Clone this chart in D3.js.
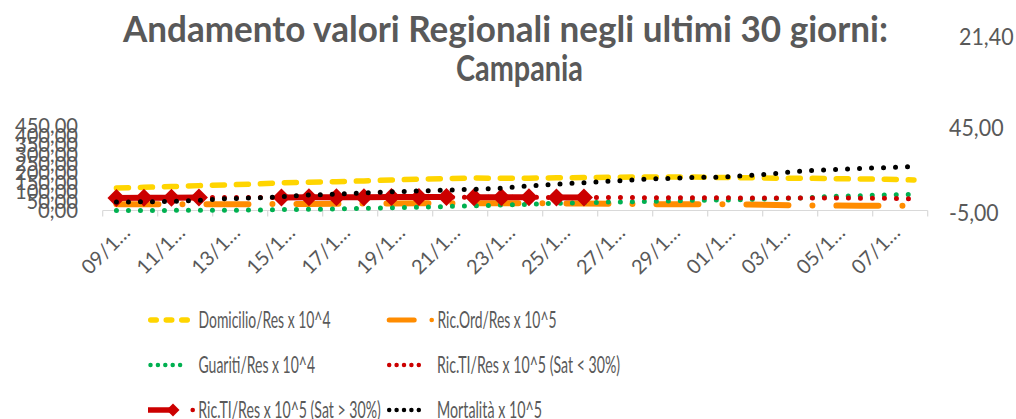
<!DOCTYPE html>
<html>
<head>
<meta charset="utf-8">
<script src="https://cdn.jsdelivr.net/npm/d3@7"></script>
<style>
  body { margin: 0; background: #fff; }
  svg { display: block; }
  text { font-family: Lato, "Open Sans", sans-serif; fill: #595959; }
</style>
</head>
<body>
<svg id="chart" width="1016" height="419"></svg>
<script>
// Days shown on the category axis (last 30 days)
const dates = [
  "09/11/2020","10/11/2020","11/11/2020","12/11/2020","13/11/2020","14/11/2020",
  "15/11/2020","16/11/2020","17/11/2020","18/11/2020","19/11/2020","20/11/2020",
  "21/11/2020","22/11/2020","23/11/2020","24/11/2020","25/11/2020","26/11/2020",
  "27/11/2020","28/11/2020","29/11/2020","30/11/2020","01/12/2020","02/12/2020",
  "03/12/2020","04/12/2020","05/12/2020","06/12/2020","07/12/2020","08/12/2020"
];

// Primary axis series
const domicilio = [119, 123, 127, 132, 136, 140, 147, 150, 153, 157, 162, 166, 169, 172, 171,
                   171.5, 173.5, 174.5, 176, 178, 178, 178, 175, 174, 171.5, 171, 169.5, 167, 166, 162];
const ricOrd = [33.4, 33.2, 32.9, 32.9, 32.9, 33.4, 34.5, 34.5, 35.6, 36.6, 37.7, 38.2, 38.2, 38.2, 38.2,
                38.2, 37.7, 37.2, 36.1, 34.5, 33.4, 32.9, 32.9, 31.3, 29.2, 27.6, 26, 25.5, 25.5, 24.9];
const guariti = [0, 0.3, 0.6, 1, 1.5, 2.5, 4.8, 6.4, 8, 11.7, 14.9, 17, 21.2, 24.9, 29.2,
                 32.9, 38.2, 41.4, 45.1, 46.7, 50.4, 54.1, 55.7, 58.4, 63.7, 67.4, 74.3, 78.5, 82.3, 86];

// Secondary axis series
const ricTI = [2.4, 2.5, 2.5, 2.6, 2.6, 2.7, 2.7, 2.8, 2.8, 2.8, 2.9, 2.9, 2.9, 2.8, 2.8,
               2.8, 2.7, 2.7, 2.6, 2.6, 2.5, 2.5, 2.5, 2.4, 2.4, 2.4, 2.3, 2.3, 2.2, 1.8];
const ricTISatHigh = [2.4, 2.5, 2.5, 2.6, null, null, 2.7, 2.8, 2.8, 2.8, 2.9, 2.9, 2.9, 2.8, 2.8,
                      2.8, 2.7, 2.7, null, null, null, null, null, null, null, null, null, null, null, null];
// days whose connector from the previous day is not drawn
const satHighBreaks = [13, 16];
const mortalita = [0, 0.1, 0.4, 1.0, 2.0, 2.4, 3.1, 4.1, 4.7, 5.3, 6.0, 6.5, 7.0, 7.5, 8.1,
                   9.5, 10.5, 11.4, 12.3, 13.3, 13.9, 14.5, 14.7, 15.6, 16.9, 18.4, 19.1, 19.8, 20.3, 20.9];

// Axis ticks
const leftTicks = [0, 50, 100, 150, 200, 250, 300, 350, 400, 450];
const rightTicks = [-5, 45];
const rightExtra = 21.4;

const titleLines = ["Andamento valori Regionali negli ultimi 30 giorni:", "Campania"];

const legendItems = [
  { key: "dom",  label: "Domicilio/Res x 10^4" },
  { key: "ord",  label: "Ric.Ord/Res x 10^5" },
  { key: "gua",  label: "Guariti/Res x 10^4" },
  { key: "tiLo", label: "Ric.TI/Res x 10^5 (Sat < 30%)" },
  { key: "tiHi", label: "Ric.TI/Res x 10^5 (Sat > 30%)" },
  { key: "mor",  label: "Mortalità x 10^5" }
];

const COL = { dom: "#FFD500", ord: "#FF8C00", gua: "#00B050", red: "#CC0000", mor: "#000000" };

const locale = d3.formatLocale({ decimal: ",", thousands: ".", grouping: [3], currency: ["€", ""], minus: "-" });
const fmt = locale.format(".2f");

// narrow number labels: width from digit / comma counts
const numWidth = (s, digit, comma) => [...s].reduce((w, c) => w + (c === "," ? comma : digit), 0);

const svg = d3.select("#chart");

// ---- scales
const x = d3.scaleBand().domain(dates).range([102.7, 927.7]);
const cx = d => x(d) + x.bandwidth() / 2;
const yL = d3.scaleLinear().domain([0, 450]).range([210.5, 125.7]);
const yR = d3.scaleLinear().domain([-5, 45]).range([210.5, 125.7]);

// ---- title
const titleG = svg.append("g").attr("font-size", 36).attr("font-weight", 700);
titleG.append("text").attr("x", 123).attr("y", 42)
  .attr("textLength", 765).attr("lengthAdjust", "spacingAndGlyphs")
  .text(titleLines[0]);
titleG.append("text").attr("x", 456).attr("y", 81)
  .attr("textLength", 127).attr("lengthAdjust", "spacingAndGlyphs")
  .text(titleLines[1]);

// ---- left axis
const axL = svg.append("g").attr("transform", "translate(78,0)")
  .call(d3.axisLeft(yL).tickValues(leftTicks).tickFormat(fmt).tickSize(0).tickPadding(0));
axL.select(".domain").remove();
axL.selectAll("text")
  .attr("font-size", 22).attr("fill", "#595959").style("font-family", "Lato, sans-serif")
  .attr("textLength", d => numWidth(fmt(d), 11.5, 5.5)).attr("lengthAdjust", "spacingAndGlyphs");

// ---- right axis
const axR = svg.append("g").attr("transform", "translate(949,0)")
  .call(d3.axisRight(yR).tickValues(rightTicks).tickFormat(fmt).tickSize(0).tickPadding(0));
axR.select(".domain").remove();
axR.selectAll("text")
  .attr("font-size", 23).attr("dy", "0.42em").attr("fill", "#595959").style("font-family", "Lato, sans-serif")
  .attr("textLength", d => numWidth(fmt(d), 12.2, 5.8) - (d < 0 ? 5 : 0)).attr("lengthAdjust", "spacingAndGlyphs");
svg.append("text").attr("x", 959).attr("y", 37).attr("dy", "0.35em")
  .attr("font-size", 23)
  .attr("textLength", numWidth(fmt(rightExtra), 12.2, 5.8)).attr("lengthAdjust", "spacingAndGlyphs")
  .text(fmt(rightExtra));

// ---- category axis
const axisG = svg.append("g");
axisG.append("line")
  .attr("x1", x.range()[0]).attr("x2", x.range()[1])
  .attr("y1", yL(0)).attr("y2", yL(0))
  .attr("stroke", "#D9D9D9").attr("stroke-width", 1.2);
const tickPos = dates.filter((d, i) => i % 2 === 0).map(d => x(d)).concat([x.range()[1]]);
axisG.selectAll("line.tick").data(tickPos).join("line").attr("class", "tick")
  .attr("x1", d => d).attr("x2", d => d)
  .attr("y1", yL(0)).attr("y2", yL(0) + 6)
  .attr("stroke", "#D9D9D9").attr("stroke-width", 1.2);
axisG.selectAll("text.lab").data(dates.filter((d, i) => i % 2 === 0)).join("text")
  .attr("class", "lab")
  .attr("font-size", 20)
  .attr("text-anchor", "end")
  .attr("transform", d => `translate(${cx(d) + 15},${234}) rotate(-45)`)
  .text(d => d.slice(0, 4) + "…");

// ---- series
const plot = svg.append("g");
const lineOf = (scale) => d3.line()
  .defined(v => v != null)
  .x((v, i) => cx(dates[i]))
  .y(v => scale(v));

// Domicilio – dashed
plot.append("path").datum(domicilio).attr("d", lineOf(yL))
  .attr("fill", "none").attr("stroke", COL.dom).attr("stroke-width", 5.5)
  .attr("stroke-linecap", "round").attr("stroke-dasharray", "12 12");

// Ric.Ord – long dash dot
plot.append("path").datum(ricOrd).attr("d", lineOf(yL))
  .attr("fill", "none").attr("stroke", COL.ord).attr("stroke-width", 6)
  .attr("stroke-linecap", "round").attr("stroke-dasharray", "42 24 0 24");

// Guariti – round dots
plot.append("path").datum(guariti).attr("d", lineOf(yL))
  .attr("fill", "none").attr("stroke", COL.gua).attr("stroke-width", 5)
  .attr("stroke-linecap", "round").attr("stroke-dasharray", "0 12");

// Ric.TI (all days) – round dots
plot.append("path").datum(ricTI).attr("d", lineOf(yR))
  .attr("fill", "none").attr("stroke", COL.red).attr("stroke-width", 5)
  .attr("stroke-linecap", "round").attr("stroke-dasharray", "0 12");

// Ric.TI with saturation > 30% – thick runs with diamond markers
const runs = [];
let cur = null;
ricTISatHigh.forEach((v, i) => {
  if (v == null) { cur = null; return; }
  if (!cur || satHighBreaks.includes(i)) { cur = []; runs.push(cur); }
  cur.push(i);
});
const runLine = d3.line().x(i => cx(dates[i])).y(i => yR(ricTISatHigh[i]));
plot.selectAll("path.run").data(runs).join("path").attr("class", "run")
  .attr("d", runLine)
  .attr("fill", "none").attr("stroke", COL.red).attr("stroke-width", 6);
const diamond = s => `M0,${-s}L${s},0L0,${s}L${-s},0Z`;
plot.selectAll("path.dia").data(ricTISatHigh.map((v, i) => ({ v, i })).filter(d => d.v != null))
  .join("path").attr("class", "dia")
  .attr("transform", d => `translate(${cx(dates[d.i])},${yR(d.v)})`)
  .attr("d", diamond(9)).attr("fill", COL.red);

// Mortalità – round dots
plot.append("path").datum(mortalita).attr("d", lineOf(yR))
  .attr("fill", "none").attr("stroke", COL.mor).attr("stroke-width", 5)
  .attr("stroke-linecap", "round").attr("stroke-dasharray", "0 12");

// ---- legend
const legPos = {
  dom:  { sx: 148, tx: 198.5, y: 320, w: 132 },
  ord:  { sx: 386.7, tx: 437.5, y: 320, w: 119 },
  gua:  { sx: 148, tx: 198.5, y: 365, w: 116.5 },
  tiLo: { sx: 386.7, tx: 437, y: 365, w: 183 },
  tiHi: { sx: 148, tx: 198.3, y: 410, w: 182.4 },
  mor:  { sx: 386.7, tx: 437, y: 410, w: 105 }
};
const leg = svg.append("g");
legendItems.forEach(item => {
  const p = legPos[item.key];
  const g = leg.append("g");
  if (item.key === "dom") {
    g.append("line").attr("x1", p.sx + 2.75).attr("x2", p.sx + 39.25).attr("y1", p.y).attr("y2", p.y)
      .attr("stroke", COL.dom).attr("stroke-width", 5.5).attr("stroke-linecap", "round")
      .attr("stroke-dasharray", "5.5 10");
  } else if (item.key === "ord") {
    g.append("line").attr("x1", p.sx + 2.5).attr("x2", p.sx + 27.5).attr("y1", p.y).attr("y2", p.y)
      .attr("stroke", COL.ord).attr("stroke-width", 5).attr("stroke-linecap", "round");
    g.append("circle").attr("cx", p.sx + 45).attr("cy", p.y).attr("r", 2.3).attr("fill", COL.ord);
  } else if (item.key === "tiHi") {
    g.append("line").attr("x1", p.sx).attr("x2", p.sx + 25).attr("y1", p.y).attr("y2", p.y)
      .attr("stroke", COL.red).attr("stroke-width", 5.5);
    g.append("path").attr("transform", `translate(${p.sx + 25},${p.y})`).attr("d", diamond(6.5)).attr("fill", COL.red);
    g.append("circle").attr("cx", p.sx + 44.7).attr("cy", p.y).attr("r", 2.3).attr("fill", COL.red);
  } else {
    const c = item.key === "gua" ? COL.gua : item.key === "tiLo" ? COL.red : COL.mor;
    g.append("line").attr("x1", p.sx + 2.5).attr("x2", p.sx + 39.5).attr("y1", p.y).attr("y2", p.y)
      .attr("stroke", c).attr("stroke-width", 4.5).attr("stroke-linecap", "round")
      .attr("stroke-dasharray", "0 7.4");
  }
  g.append("text").attr("x", p.tx).attr("y", p.y).attr("dy", "0.36em")
    .attr("font-size", 23)
    .attr("textLength", p.w).attr("lengthAdjust", "spacingAndGlyphs")
    .text(item.label);
});
</script>
</body>
</html>
